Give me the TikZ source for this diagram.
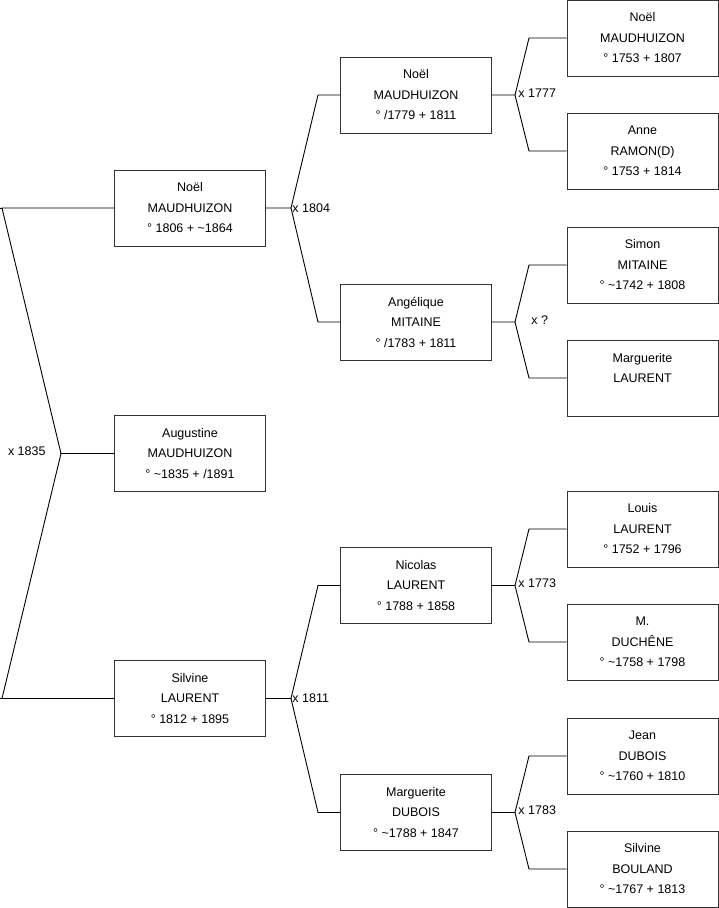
\documentclass[tikz,border=0pt]{standalone}
\usepackage{fontspec}
\setmainfont{Liberation Sans}
\begin{document}
\begin{tikzpicture}[x=1pt,y=-1pt,line width=0.9pt,
  person/.style={draw=black!80,minimum width=151pt,minimum height=76pt,inner sep=0pt,
    align=center,font=\fontsize{12.5}{20.5}\selectfont},
  union/.style={inner sep=1pt,font=\fontsize{12.5}{15}\selectfont}]
  \useasboundingbox (0,0) rectangle (719,908);
  % generation 0
  \node[person] (noelA) at (190,208) {Noël\\MAUDHUIZON\\° 1806 + \textasciitilde1864};
  \node[person] (augustine) at (190,453.5) {Augustine\\MAUDHUIZON\\° \textasciitilde1835 + /1891};
  \node[person] (silvineA) at (190,698.5) {Silvine\\LAURENT\\° 1812 + 1895};
  % generation 1
  \node[person] (noelB) at (416,95) {Noël\\MAUDHUIZON\\° /1779 + 1811};
  \node[person] (angelique) at (416,322) {Angélique\\MITAINE\\° /1783 + 1811};
  \node[person] (nicolas) at (416,585.5) {Nicolas\\LAURENT\\° 1788 + 1858};
  \node[person] (margueriteB) at (416,812.5) {Marguerite\\DUBOIS\\° \textasciitilde1788 + 1847};
  % generation 2
  \node[person] (noelC) at (642.5,38) {Noël\\MAUDHUIZON\\° 1753 + 1807};
  \node[person] (anne) at (642.5,151) {Anne\\RAMON(D)\\° 1753 + 1814};
  \node[person] (simon) at (642.5,265) {Simon\\MITAINE\\° \textasciitilde1742 + 1808};
  \node[person] (margueriteC) at (642.5,378) {Marguerite\\LAURENT\\\vphantom{° 1}};
  \node[person] (louis) at (642.5,529) {Louis\\LAURENT\\° 1752 + 1796};
  \node[person] (duchene) at (642.5,642) {M.\\DUCHÊNE\\° \textasciitilde1758 + 1798};
  \node[person] (jean) at (642.5,756) {Jean\\DUBOIS\\° \textasciitilde1760 + 1810};
  \node[person] (silvineC) at (642.5,869) {Silvine\\BOULAND\\° \textasciitilde1767 + 1813};
  % unions
  \coordinate (u0) at (61,453.5);
  \coordinate (u0a) at (2,208);
  \coordinate (u0b) at (2,698.5);
  \draw (augustine) -- (u0) -- (u0a) -- (noelA);
  \draw (u0) -- (u0b) -- (silvineA);
  \draw (0,208) -- (u0a) (0,698.5) -- (u0b);
  \node[union,anchor=east] (m1835) at (47,451.5) {x 1835};

  \coordinate (u1) at (291,208);
  \draw (noelA) -- (u1) -- (318,95) -- (noelB);
  \draw (u1) -- (318,322) -- (angelique);
  \node[union,anchor=west] (m1804) at (291,208) {x 1804};

  \coordinate (u2) at (291,698.5);
  \draw (silvineA) -- (u2) -- (318,585.5) -- (nicolas);
  \draw (u2) -- (318,812.5) -- (margueriteB);
  \node[union,anchor=west] (m1811) at (291,698.5) {x 1811};

  \coordinate (u3) at (515,95);
  \draw (noelB) -- (u3) -- (529,38) -- (noelC);
  \draw (u3) -- (529,151) -- (anne);
  \node[union,anchor=west] (m1777) at (517,93) {x 1777};

  \coordinate (u4) at (515,322);
  \draw (angelique) -- (u4) -- (529,265) -- (simon);
  \draw (u4) -- (529,378) -- (margueriteC);
  \node[union,anchor=west] (mq) at (530,320) {x ?};

  \coordinate (u5) at (515,585.5);
  \draw (nicolas) -- (u5) -- (529,529) -- (louis);
  \draw (u5) -- (529,642) -- (duchene);
  \node[union,anchor=west] (m1773) at (517,583) {x 1773};

  \coordinate (u6) at (515,812.5);
  \draw (margueriteB) -- (u6) -- (529,756) -- (jean);
  \draw (u6) -- (529,869) -- (silvineC);
  \node[union,anchor=west] (m1783) at (517,810) {x 1783};
\end{tikzpicture}
\end{document}
